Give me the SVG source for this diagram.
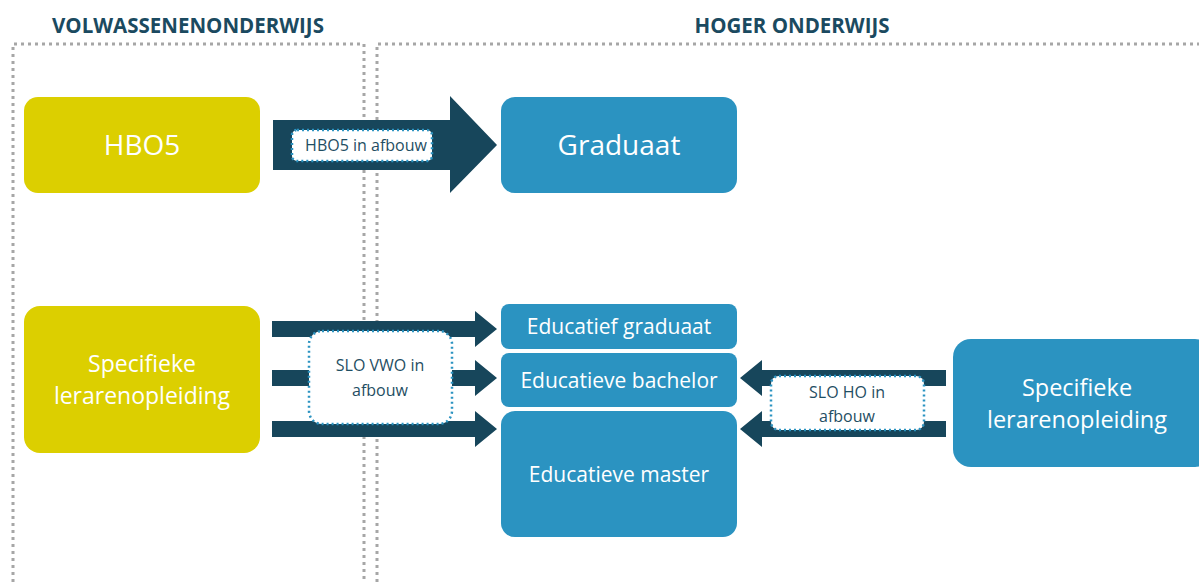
<svg xmlns="http://www.w3.org/2000/svg" width="1199" height="582" viewBox="0 0 1199 582">
<style>
.title{font-family:"Open Sans","Liberation Sans",sans-serif;font-weight:bold;font-size:20.5px;fill:#1b4a60;text-anchor:middle}
.frame{fill:none;stroke:#a6a6a6;stroke-width:3;stroke-dasharray:3 4}
.yel{fill:#dccf00}
.blu{fill:#2b93c1}
.wt{font-family:"Open Sans","Liberation Sans",sans-serif;fill:#fff;text-anchor:middle}
.arr{fill:#17465b}
.lbl{fill:#fff;stroke:#2b93c1;stroke-width:2.5;stroke-dasharray:2 3}
.lt{font-family:"Open Sans","Liberation Sans",sans-serif;fill:#1f4e63;text-anchor:middle;font-size:16px}
</style>
<rect width="1199" height="582" fill="#fff"/>
<text class="title" x="188" y="33">VOLWASSENENONDERWIJS</text>
<text class="title" x="792" y="33">HOGER ONDERWIJS</text>
<path class="frame" d="M13,582 V44 H364 V582"/>
<path class="frame" d="M377,582 V44 H1199"/>
<g id="connectors">
<path class="arr" d="M273,120 H450 V96 L497,145 L450,193 V170 H273 Z"/>
<path class="arr" d="M272,321 H475 V311 L497,329 L475,347 V337 H272 Z"/>
<path class="arr" d="M272,370 H475 V360 L497,378 L475,396 V386 H272 Z"/>
<path class="arr" d="M272,421 H475 V411 L497,429 L475,447 V437 H272 Z"/>
<path class="arr" d="M946,370 H762 V360 L740,378 L762,396 V386 H946 Z"/>
<path class="arr" d="M946,421 H762 V411 L740,429 L762,447 V437 H946 Z"/>
<g id="lbl-hbo5">
<rect class="lbl" x="292" y="130" width="140" height="31" rx="5"/>
<text class="lt" x="366" y="151">HBO5 in afbouw</text>
</g>
<g id="lbl-slovwo">
<rect class="lbl" x="309" y="331" width="143" height="93" rx="13"/>
<text class="lt" x="380" y="371" font-size="17">SLO VWO in</text>
<text class="lt" x="380" y="396" font-size="17">afbouw</text>
</g>
<g id="lbl-sloho">
<rect class="lbl" x="771" y="376" width="153" height="54" rx="8"/>
<text class="lt" x="847" y="398">SLO HO in</text>
<text class="lt" x="847" y="422">afbouw</text>
</g>
</g>
<g id="hbo5">
<rect class="yel" x="24" y="97" width="236" height="96" rx="14"/>
<text class="wt" x="142" y="155" font-size="28">HBO5</text>
</g>
<g id="graduaat">
<rect class="blu" x="501" y="97" width="236" height="96" rx="14"/>
<text class="wt" x="619" y="155" font-size="28">Graduaat</text>
</g>
<g id="slo-left">
<rect class="yel" x="24" y="306" width="236" height="147" rx="16"/>
<text class="wt" x="142" y="372" font-size="23">Specifieke</text>
<text class="wt" x="142" y="404" font-size="23">lerarenopleiding</text>
</g>
<g id="edu-graduaat">
<rect class="blu" x="501" y="304" width="236" height="45" rx="8"/>
<text class="wt" x="619" y="334" font-size="21">Educatief graduaat</text>
</g>
<g id="edu-bachelor">
<rect class="blu" x="501" y="353" width="236" height="54" rx="8"/>
<text class="wt" x="619" y="388" font-size="21">Educatieve bachelor</text>
</g>
<g id="edu-master">
<rect class="blu" x="501" y="411" width="236" height="126" rx="14"/>
<text class="wt" x="619" y="482" font-size="21">Educatieve master</text>
</g>
<g id="slo-right">
<rect class="blu" x="953" y="339" width="260" height="128" rx="18"/>
<text class="wt" x="1077" y="396" font-size="23.5">Specifieke</text>
<text class="wt" x="1077" y="428" font-size="23.5">lerarenopleiding</text>
</g>
</svg>
